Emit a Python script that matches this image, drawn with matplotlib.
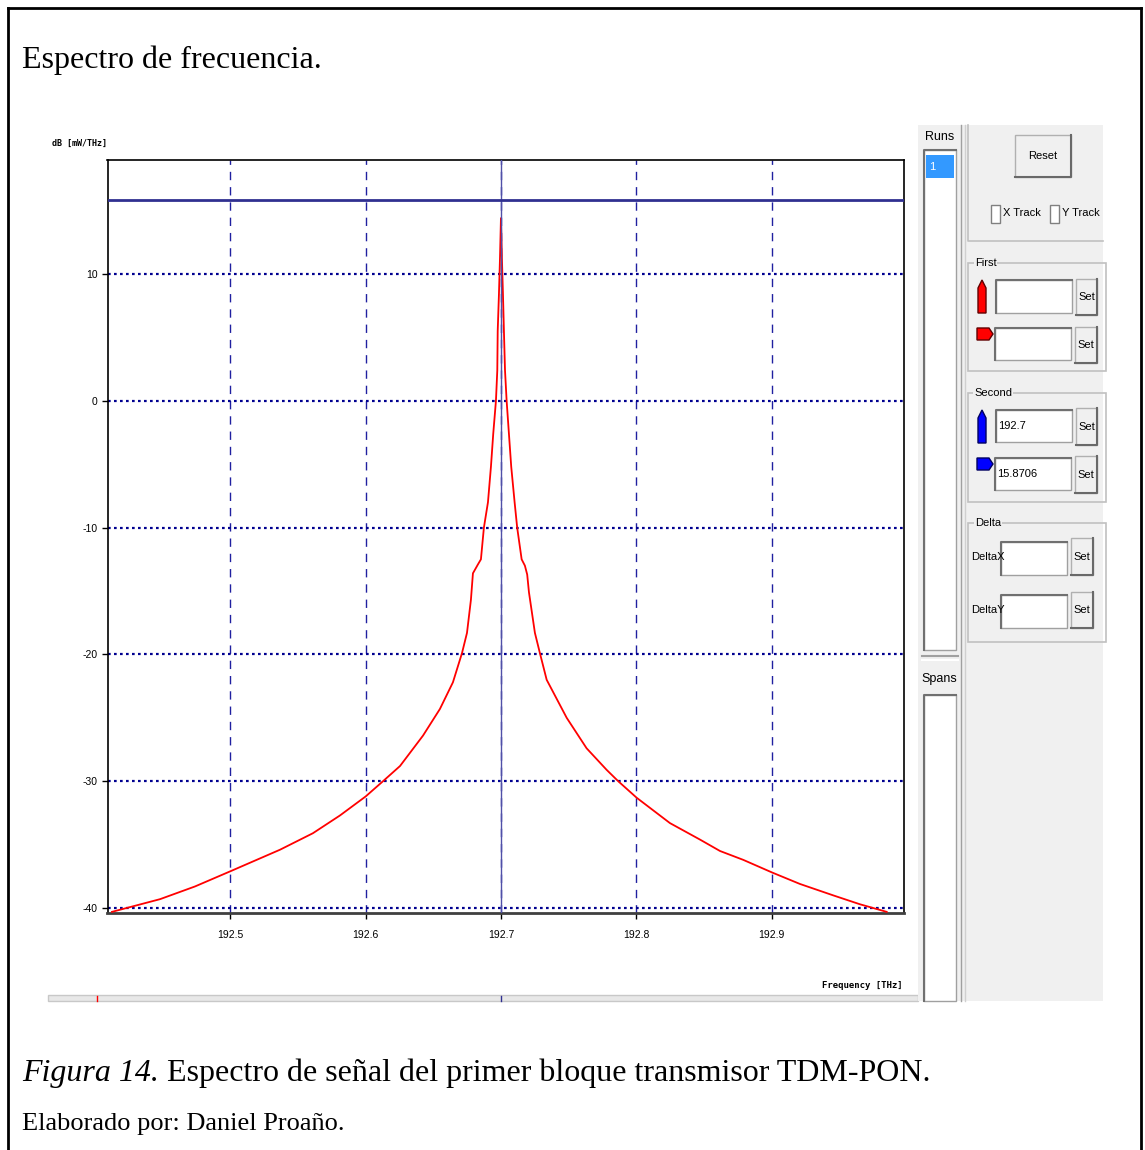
import numpy as np
import matplotlib.pyplot as plt
from matplotlib.patches import Rectangle, Polygon

# spectrum (THz, dB)
freq = [192.4125, 192.4480, 192.4738, 192.5000, 192.5367, 192.5610, 192.5810,
        192.6000, 192.6128, 192.6254, 192.6424, 192.6549, 192.6645, 192.6712,
        192.6749, 192.6778, 192.6793, 192.6830, 192.6852, 192.6874, 192.6904,
        192.6926, 192.6943, 192.6963, 192.6973, 192.6976, 192.6985, 192.6993,
        192.7000, 192.7007, 192.7015, 192.7022, 192.7030, 192.7042, 192.7059,
        192.7076, 192.7101, 192.7120, 192.7153, 192.7177, 192.7194, 192.7207,
        192.7251, 192.7288, 192.7338, 192.7486, 192.7633, 192.7781, 192.7867,
        192.8003, 192.8249, 192.8471, 192.8619, 192.8791, 192.9005, 192.9210,
        192.9456, 192.9653, 192.9851]
power = [-40.3, -39.3, -38.3, -37.1, -35.4, -34.1, -32.7,
         -31.2, -30.0, -28.8, -26.4, -24.3, -22.2, -19.9,
         -18.3, -15.7, -13.6, -12.9, -12.5, -10.0, -8.0,
         -5.2, -2.6, 0.0, 2.4, 5.5, 8.35, 11.3,
         14.4, 11.3, 8.35, 5.5, 2.4, 0.0, -2.6,
         -5.2, -8.0, -10.0, -12.5, -13.0, -13.7, -15.1,
         -18.3, -19.9, -22.0, -25.0, -27.4, -29.1, -30.0,
         -31.3, -33.3, -34.6, -35.5, -36.2, -37.2, -38.1,
         -39.0, -39.7, -40.3]

xticks = [192.5, 192.6, 192.7, 192.8, 192.9]
xticklabels = ['192.5', '192.6', '192.7', '192.8', '192.9']
yticks = [10, 0, -10, -20, -30, -40]
marker_x = 192.7
marker_y = 15.8706

W, H = 1145, 1150
fig = plt.figure(figsize=(W / 100, H / 100), dpi=100)

# background layer in pixel coordinates (origin top-left)
ui = fig.add_axes([0, 0, 1, 1], zorder=0)
ui.set_xlim(0, W)
ui.set_ylim(H, 0)
ui.axis('off')

ui_font = ['Liberation Sans', 'DejaVu Sans']
serif = ['Liberation Serif', 'DejaVu Serif']
UI_SIZE = 8


def box(x0, y0, x1, y1, fc='none', ec='none', lw=1, z=1):
    ui.add_patch(Rectangle((x0, y0), x1 - x0, y1 - y0, fc=fc, ec=ec, lw=lw, zorder=z))


def sunken(x0, y0, x1, y1, text=None):
    box(x0, y0, x1, y1, fc='white', ec='#a0a0a0', lw=1)
    ui.plot([x0, x0, x1], [y1, y0, y0], color='#707070', lw=1.5, zorder=2)
    if text:
        ui.text(x0 + 2, (y0 + y1) / 2, text, fontsize=UI_SIZE, family=ui_font,
                va='center', ha='left', color='black')


def button(x0, y0, x1, y1, text):
    box(x0, y0, x1, y1, fc='#f0f0f0', ec='#b0b0b0', lw=1)
    ui.plot([x0, x1, x1], [y1, y1, y0], color='#696969', lw=1.5, zorder=2)
    ui.text((x0 + x1) / 2, (y0 + y1) / 2, text, fontsize=UI_SIZE, family=ui_font,
            va='center', ha='center')


def group(x0, y0, x1, y1, label, lx):
    box(x0, y0, x1, y1, ec='#c0c0c0', lw=1.2)
    ui.text(lx, y0, label, fontsize=UI_SIZE, family=ui_font, va='center', ha='left',
            bbox=dict(fc='#f0f0f0', ec='none', pad=0.5), zorder=3)


# document frame and captions
ui.plot([8, 8], [H, 8], color='black', lw=2)
ui.plot([8, 1141], [8, 8], color='black', lw=2)
ui.plot([1141, 1141], [8, H], color='black', lw=2)
ui.text(22, 60, 'Espectro de frecuencia.', fontsize=23, family=serif, va='center')
ui.text(22, 1073, 'Figura 14.', fontsize=23, family=serif, style='italic',
        va='center')
ui.text(167, 1073, 'Espectro de señal del primer bloque transmisor TDM-PON.',
        fontsize=23, family=serif, va='center')
ui.text(22, 1124, 'Elaborado por: Daniel Proaño.', fontsize=19, family=serif, va='center')

# screenshot area
box(48, 125, 918, 995, fc='white')
box(48, 995, 918, 1001, fc='#e8e8e8', ec='#c8c8c8')
ui.plot([97, 97], [996, 1001], color='red', lw=1)
ui.plot([501, 501], [996, 1001], color='#303090', lw=1)
box(918, 125, 1103, 1001, fc='#f0f0f0')

ui.text(940, 137, 'Runs', fontsize=UI_SIZE + 1, family=ui_font, ha='center', va='center')
sunken(924, 150, 956, 650)
box(926, 155, 954, 178, fc='#3399ff')
ui.text(929, 167, '1', fontsize=UI_SIZE, family=ui_font, color='white', va='center')
ui.plot([922, 958], [656, 656], color='#a0a0a0', lw=1.5)
ui.plot([922, 958], [660, 660], color='#ffffff', lw=1.5)
ui.text(939, 679, 'Spans', fontsize=UI_SIZE + 1, family=ui_font, ha='center', va='center')
sunken(924, 695, 956, 1001)
ui.plot([961, 961], [125, 1001], color='#a0a0a0', lw=1)
ui.plot([965, 965], [125, 1001], color='#d0d0d0', lw=1)

ui.plot([968, 968, 1103], [125, 241, 241], color='#c0c0c0', lw=1.2)
button(1015, 135, 1071, 177, 'Reset')
for bx, lab in [(991, 'X Track'), (1050, 'Y Track')]:
    box(bx, 205, bx + 9, 223, fc='white', ec='#808080', lw=1)
    ui.text(bx + 12, 213, lab, fontsize=UI_SIZE, family=ui_font, va='center')

group(968, 263, 1106, 371, 'First', 975)
ui.add_patch(Polygon([(978, 313), (978, 288), (982, 280), (986, 288), (986, 313)],
                     fc='red', ec='#600000', lw=1, zorder=3))
sunken(996, 280, 1072, 313)
button(1076, 279, 1097, 315, 'Set')
ui.add_patch(Polygon([(977, 328), (989, 328), (993, 334), (989, 340), (977, 340)],
                     fc='red', ec='#600000', lw=1, zorder=3))
sunken(995, 328, 1071, 360)
button(1075, 327, 1097, 363, 'Set')

group(968, 393, 1106, 502, 'Second', 974)
ui.add_patch(Polygon([(978, 443), (978, 418), (982, 410), (986, 418), (986, 443)],
                     fc='blue', ec='#000060', lw=1, zorder=3))
sunken(996, 410, 1072, 442, '192.7')
button(1076, 408, 1097, 445, 'Set')
ui.add_patch(Polygon([(977, 458), (989, 458), (993, 464), (989, 470), (977, 470)],
                     fc='blue', ec='#000060', lw=1, zorder=3))
sunken(995, 458, 1071, 490, '15.8706')
button(1075, 456, 1097, 493, 'Set')

group(968, 523, 1106, 642, 'Delta', 975)
ui.text(971, 557, 'DeltaX', fontsize=UI_SIZE, family=ui_font, va='center')
sunken(1001, 542, 1067, 575)
button(1071, 538, 1093, 575, 'Set')
ui.text(971, 610, 'DeltaY', fontsize=UI_SIZE, family=ui_font, va='center')
sunken(1001, 595, 1067, 628)
button(1071, 592, 1093, 628, 'Set')

ui.text(52, 143, 'dB [mW/THz]', fontsize=6, family='DejaVu Sans Mono',
        fontweight='bold', va='center')
ui.text(903, 985, 'Frequency [THz]', fontsize=6.5, family='DejaVu Sans Mono',
        fontweight='bold', ha='right', va='center')

# the plot itself
left, right, top, bottom = 107.5, 904, 160, 913
ax = fig.add_axes([left / W, 1 - bottom / H, (right - left) / W, (bottom - top) / H],
                  zorder=1)
ax.set_facecolor('white')
ax.set_xlim(192.4092, 192.9979)
ax.set_ylim(-40.39, 18.99)

for t in xticks:
    ax.axvline(t, color='#2020a0', lw=1, ls=(0, (6, 5)), zorder=1)
for t in yticks:
    ax.axhline(t, color='#000090', lw=1.6, ls=(0, (1.2, 1.5)), zorder=1)

ax.plot(freq, power, color='red', lw=1.3, zorder=3)
ax.axvline(marker_x, color='#5050a8', lw=1, zorder=4)
ax.axhline(marker_y, color='#303090', lw=2, zorder=4)

ax.set_xticks(xticks)
ax.set_xticklabels(xticklabels)
ax.set_yticks(yticks)
ax.set_yticklabels([str(t) for t in yticks])
ax.tick_params(direction='out', length=4, width=1, color='black',
               labelsize=7.5, pad=8)
for lab in ax.get_xticklabels() + ax.get_yticklabels():
    lab.set_family(ui_font)
ax.tick_params(axis='y', pad=3)

for s in ax.spines.values():
    s.set_color('black')
    s.set_linewidth(1.2)
ax.spines['bottom'].set_linewidth(2)
ax.spines['bottom'].set_color('#404040')

plt.savefig('out.png', dpi=100)
plt.close()
